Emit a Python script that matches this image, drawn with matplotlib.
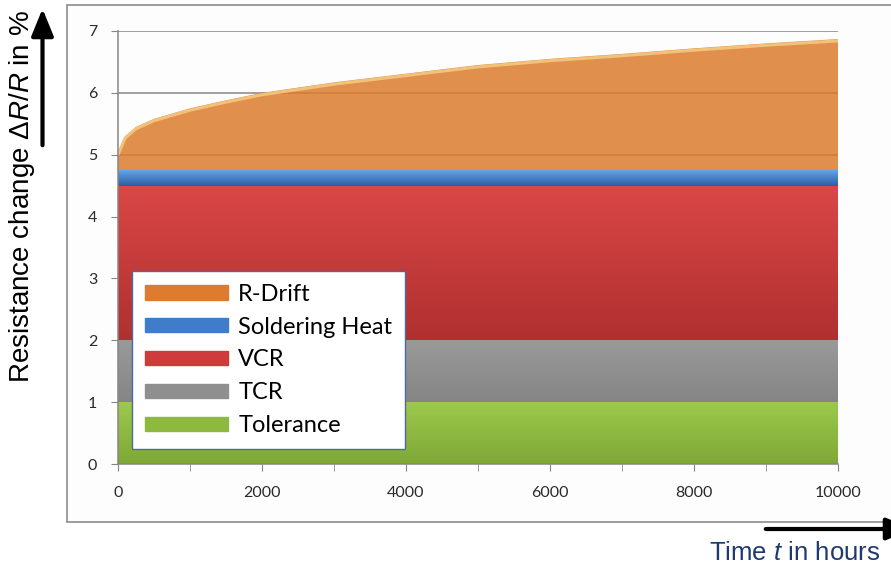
import numpy as np
import matplotlib
matplotlib.use("Agg")
import matplotlib.pyplot as plt
from matplotlib.patches import Rectangle, Patch, FancyArrowPatch
from matplotlib.ticker import MultipleLocator
from matplotlib.colors import to_rgb

# ---- data ----
time_h = [0, 100, 250, 500, 1000, 1500, 2000, 3000, 4000, 5000, 6000, 7000, 8000, 9000, 10000]
r_drift = [0.28, 0.55, 0.70, 0.83, 1.00, 1.13, 1.25, 1.42, 1.56, 1.70, 1.80, 1.88, 1.97, 2.05, 2.12]
tolerance = 1.0
tcr = 1.0
vcr = 2.5
soldering_heat = 0.25
series_labels = ["Tolerance", "TCR", "VCR", "Soldering Heat", "R-Drift"]
series_colors = ["#8DBA3E", "#8F8F8F", "#CF3A3A", "#3F7DCB", "#DD7C2E"]
# (top, bottom) shading of each band
band_top = ["#9CC94C", "#9A9A9A", "#DA4747", "#64A4E6", None]
band_bottom = ["#7FA836", "#858585", "#B03030", "#2C5DA6", None]
x_ticks = [0, 2000, 4000, 6000, 8000, 10000]
y_ticks = [0, 1, 2, 3, 4, 5, 6, 7]

plt.rcParams['mathtext.fontset'] = 'custom'
plt.rcParams['mathtext.rm'] = 'Liberation Sans'
plt.rcParams['mathtext.it'] = 'Liberation Sans:italic'

W, H = 891, 567
fig = plt.figure(figsize=(W / 100, H / 100), dpi=100, facecolor='white')

def fx(px):
    return px / W

def fy(py):
    return 1 - py / H

# outer chart box
fig.patches.append(Rectangle((fx(67), fy(522)), fx(891 - 67) + 0.02, (522 - 5) / H,
                             transform=fig.transFigure, facecolor='#FDFDFD',
                             edgecolor='#8C8C8C', lw=1.2, zorder=-5))

ax = fig.add_axes([fx(118), fy(464), 720 / W, 433 / H])
ax.set_facecolor('none')

t = np.array(time_h, dtype=float)
n = len(t)
stack = [np.full(n, tolerance), np.full(n, tcr), np.full(n, vcr),
         np.full(n, soldering_heat), np.array(r_drift)]
polys = ax.stackplot(t, *stack, colors=series_colors, zorder=2, lw=0)
polys[-1].set_alpha(0.85)

# vertical shading inside the constant bands
cum = np.cumsum([s[0] for s in stack])
lower = np.concatenate([[0], cum[:-1]])
for i, poly in enumerate(polys):
    if band_top[i] is None:
        continue
    c1 = np.array(to_rgb(band_top[i]))
    c0 = np.array(to_rgb(band_bottom[i]))
    f = np.linspace(0, 1, 64)[:, None]
    grad = (c0 * (1 - f) + c1 * f)[:, None, :]
    im = ax.imshow(grad, extent=(t[0], t[-1], lower[i], cum[i]), origin='lower',
                   aspect='auto', zorder=2.1, interpolation='bilinear')
    im.set_clip_path(poly.get_paths()[0], transform=ax.transData)

# light bevel along the top edge of the R-Drift area
top_total = np.sum(stack, axis=0)
ax.plot(t, top_total - 0.03, color='#F3C27A', lw=2.2, zorder=2.3, solid_capstyle='butt')

ax.set_xlim(0, 10000)
ax.set_ylim(0, 7)
ax.set_yticks(y_ticks)
ax.set_xticks(x_ticks)
ax.xaxis.set_minor_locator(MultipleLocator(1000))
ax.yaxis.grid(True, color='#868686', lw=1.1, zorder=0)
ax.set_axisbelow(True)

for s in ['top', 'right']:
    ax.spines[s].set_visible(False)
for s in ['left', 'bottom']:
    ax.spines[s].set_color('#868686')
    ax.spines[s].set_linewidth(1.1)
    ax.spines[s].set_zorder(3)

ax.tick_params(axis='both', which='both', direction='out', length=5, color='#868686',
               labelcolor='#2A2A2A')
ax.tick_params(axis='y', pad=10)
ax.tick_params(axis='x', pad=11)
for lab in ax.get_xticklabels() + ax.get_yticklabels():
    lab.set_fontfamily('Lato')
    lab.set_fontsize(11.5)

# legend
handles = [Patch(facecolor=c, edgecolor=c) for c in series_colors][::-1]
labels = series_labels[::-1]
leg = ax.legend(handles, labels, loc='lower left',
                bbox_to_anchor=(14 / 720, 15 / 433),
                prop=dict(family='Lato', size=17), frameon=True, fancybox=False,
                framealpha=1.0, handlelength=3.5, handleheight=0.55, handletextpad=0.45,
                labelspacing=0.5, borderpad=0.55, borderaxespad=0)
leg.get_frame().set_edgecolor('#4E6A9C')
leg.get_frame().set_linewidth(1.0)
leg.get_frame().set_facecolor('white')
leg.set_zorder(5)

# y label + arrow
fig.text(fx(22), fy(197), r'Resistance change $\Delta R/R$ in %', rotation=90,
         ha='center', va='center', family='Liberation Sans', fontsize=20, color='black')
fig.patches.append(FancyArrowPatch(
    (fx(42.5), fy(148)), (fx(42.5), fy(6)), transform=fig.transFigure,
    arrowstyle='-|>,head_length=1.1,head_width=0.45', mutation_scale=15,
    color='black', lw=3))

# x label + arrow
fig.text(fx(880), fy(553), r'Time $t$ in hours', ha='right', va='center',
         family='Liberation Sans', fontsize=18.5, color='#1F3A6E')
fig.patches.append(FancyArrowPatch(
    (fx(763), fy(529)), (fx(916), fy(529)), transform=fig.transFigure,
    arrowstyle='-|>,head_length=1.1,head_width=0.45', mutation_scale=15,
    color='black', lw=3))

fig.savefig('out.png', dpi=100, facecolor='white')
